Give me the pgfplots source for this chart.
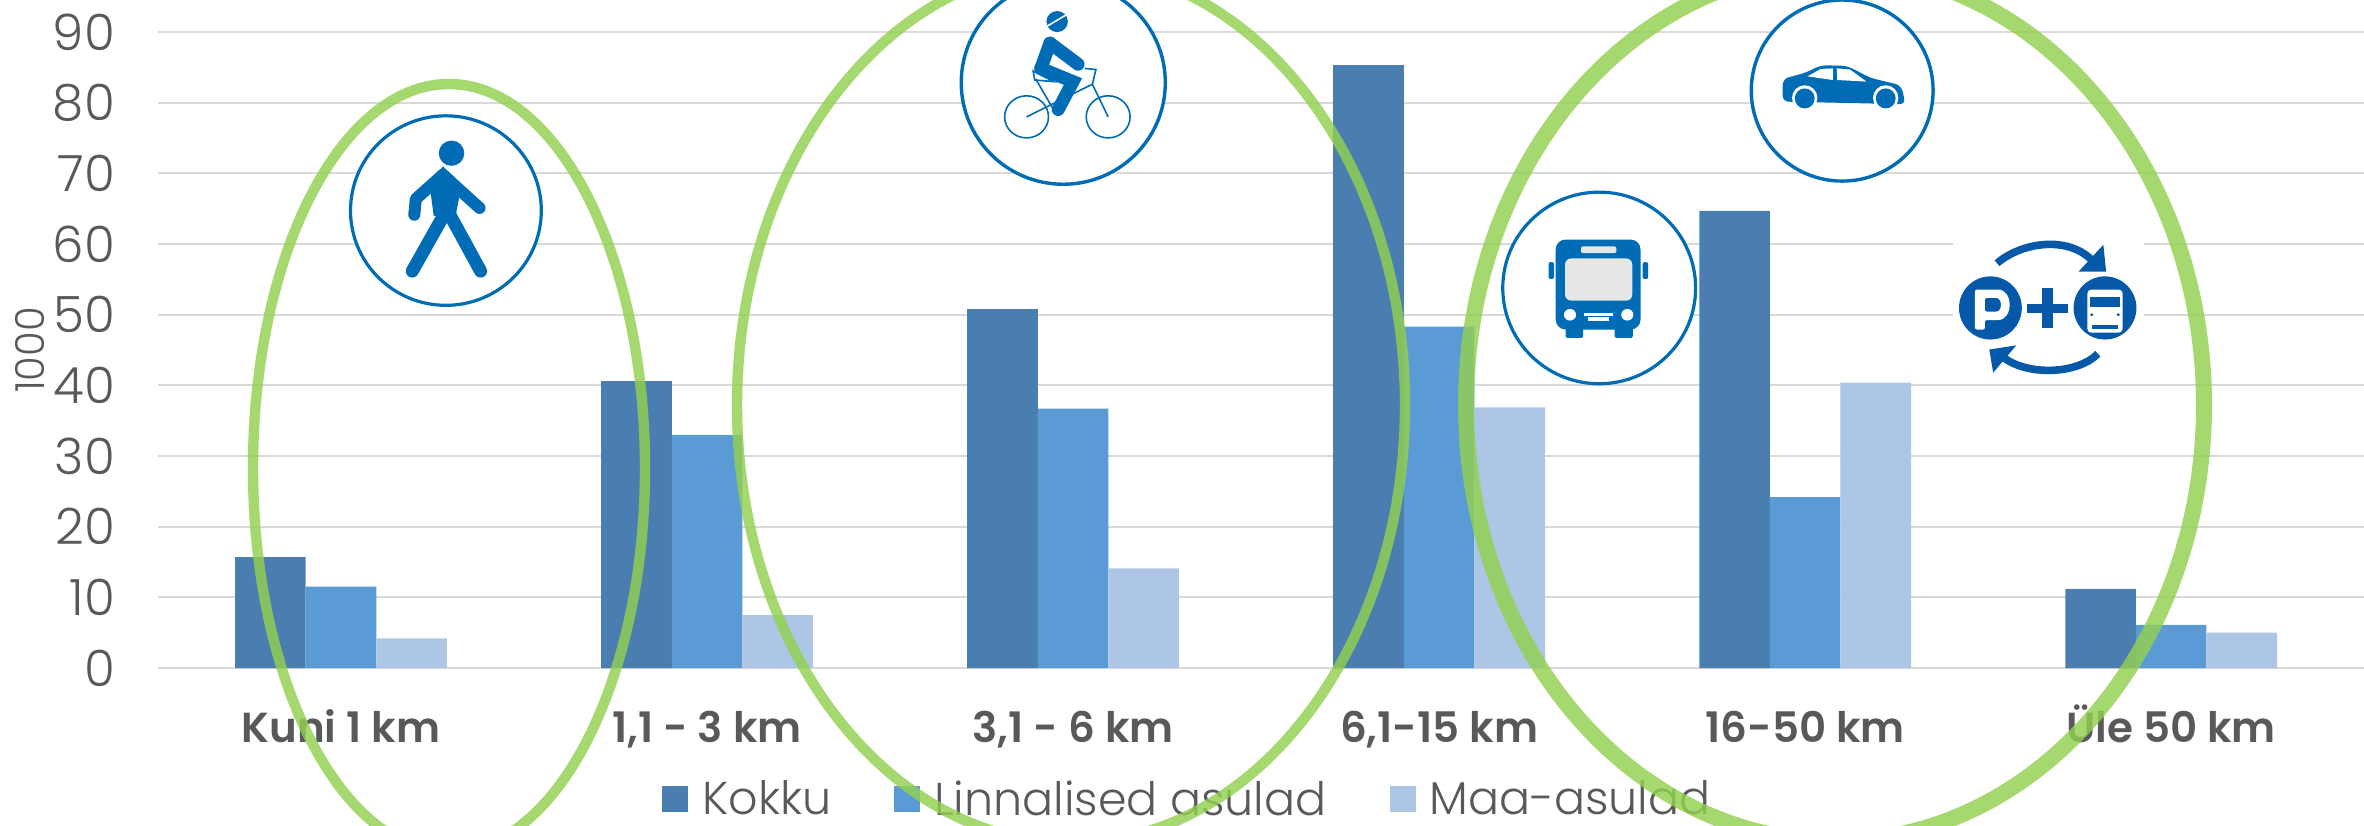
\documentclass[border=0pt]{standalone}
\usepackage{pgfplots}
\pgfplotsset{compat=1.18}
\usepackage{fontspec}
\setmainfont{Poppins}[UprightFont=* Light,BoldFont=* SemiBold]
\definecolor{cK}{HTML}{4A7EB0}
\definecolor{cL}{HTML}{5B9BD5}
\definecolor{cM}{HTML}{ADC6E5}
\definecolor{cG}{HTML}{92D050}
\definecolor{cB}{HTML}{006CB5}
\definecolor{cP}{HTML}{0559A8}
\definecolor{cT}{HTML}{595959}
\definecolor{cW}{HTML}{E6E8E6}
\begin{document}
\begin{tikzpicture}
\useasboundingbox (0,0) rectangle (1182pt,-412.5pt);
\clip (0,0) rectangle (1182pt,-412.5pt);
\begin{axis}[
  at={(79pt,-334pt)}, anchor=south west,
  scale only axis, width=1103pt, height=318pt,
  ymin=0, ymax=90, xmin=-0.5, xmax=5.527,
  ybar=0pt, bar width=35.3pt,
  axis line style={draw=none}, tick style={draw=none},
  ymajorgrids, grid style={draw=black!15,line width=1pt},
  ytick={0,10,...,90},
  xtick=data,
  xticklabels={Kuni 1 km,{1,1 - 3 km},{3,1 - 6 km},{6,1-15 km},16-50 km,Üle 50 km},
  tick label style={text=cT},
  /pgf/number format/assume math mode=true,
  yticklabel style={font=\fontsize{25}{25}\selectfont,xshift=-18pt},
  xticklabel style={font=\fontsize{21}{21}\selectfont\bfseries,text height=16.5pt,text depth=0pt,yshift=-13pt},
  ylabel={1000}, ylabel style={font=\fontsize{20}{20}\selectfont,text=cT,at={(axis description cs:-0.058,0.5)},anchor=center},
  legend style={draw=none,fill=none,at={(252pt,-54pt)},anchor=north west,legend columns=3,
    font=\fontsize{23}{23}\selectfont,text=cT,
    /tikz/every odd column/.style={column sep=5pt},/tikz/every even column/.style={column sep=29.5pt},inner sep=0pt},
  legend image code/.code={\fill[#1] (0pt,-6.5pt) rectangle (13pt,6.5pt);},
  legend cell align=left,
]
\addplot[draw=none,fill=cK] coordinates {(0,15.7) (1,40.6) (2,50.8) (3,85.3) (4,64.7) (5,11.2)};
\addplot[draw=none,fill=cL] coordinates {(0,11.5) (1,33.0) (2,36.7) (3,48.3) (4,24.2) (5,6.1)};
\addplot[draw=none,fill=cM] coordinates {(0,4.2) (1,7.5) (2,14.1) (3,36.9) (4,40.4) (5,5.0)};
\legend{Kokku,Linnalised asulad,Maa-asulad}
\end{axis}
% --- walker
\begin{scope}[x=0.2551pt,y=-0.2632pt]
  \draw[cB,line width=1.6pt,fill=white] (874,400) circle [x radius=187,y radius=180];
  \fill[cB] (885,291) circle [x radius=25,y radius=24];
  \fill[cB] (868,316) -- (905,350) -- (893,410) -- (850,410) -- (842,350) -- cycle;
  \draw[cB,line width=6pt,line cap=round,line join=round] (868,332) -- (815,378) -- (812,408);
  \draw[cB,line width=6pt,line cap=round] (868,332) -- (940,395);
  \draw[cB,line width=6.5pt,line cap=round] (872,405) -- (808,515);
  \draw[cB,line width=6.5pt,line cap=round] (880,405) -- (942,515);
\end{scope}
% --- cyclist
\begin{scope}[xshift=400pt,x=0.2551pt,y=-0.2632pt]
  \draw[cB,line width=1.7pt,fill=white] (516,157) circle [x radius=200,y radius=193];
  \fill[cB] (504,41) circle [x radius=21,y radius=20];
  \draw[white,line width=0.8pt] (484,50) -- (522,28);
  \draw[cB,line width=6.5pt,line cap=round] (490,82) -- (472,130);
  \draw[cB,line width=6.5pt,line cap=round] (490,82) -- (545,122);
  \draw[cB,line width=6.5pt,line cap=round] (472,130) -- (535,155) -- (506,208);
  \draw[cB,line width=0.8pt] (444,222) circle [x radius=43,y radius=40];
  \draw[cB,line width=0.8pt] (604,222) circle [x radius=43,y radius=40];
  \draw[cB,line width=0.8pt] (444,222) -- (573,160) -- (604,222);
  \draw[cB,line width=0.8pt] (462,150) -- (495,205) (573,160) -- (580,132) -- (558,130);
  \draw[cB,line width=0.8pt] (457,135) -- (497,155) -- (460,152) -- cycle;
\end{scope}
% --- car, bus, P+R
\begin{scope}[xshift=750pt,x=0.2755pt,y=-0.2632pt]
  \fill[white] (822,440) rectangle (1168,722);
  \draw[cB,line width=1.7pt,fill=white] (621,172) circle [x radius=165,y radius=172];
  \fill[cB,rounded corners=3pt] (513,150) -- (555,138) -- (582,124) -- (630,125) -- (672,148) -- (728,162) -- (736,198) -- (513,193) -- cycle;
  \fill[white] (558,145) -- (582,131) -- (604,130) -- (604,152) -- cycle;
  \fill[white] (611,130) -- (635,132) -- (665,155) -- (612,152) -- cycle;
  \foreach \p in {553,700}{\fill[white] (\p,186) circle [x radius=23,y radius=24];\fill[cB] (\p,187) circle [x radius=18,y radius=19];}
  \draw[cB,line width=1.6pt,fill=white] (180,547) circle [x radius=175,y radius=182];
  \fill[cB,rounded corners=5pt] (101,455) rectangle (255,626);
  \fill[cB,rounded corners=1pt] (88,498) rectangle (98,530);
  \fill[cB,rounded corners=1pt] (259,498) rectangle (269,530);
  \fill[cB,rounded corners=1pt] (119,620) rectangle (151,642);
  \fill[cB,rounded corners=1pt] (208,620) rectangle (241,642);
  \fill[cW,rounded corners=3pt] (118,491) rectangle (240,571);
  \fill[cW,rounded corners=1pt] (147,468) rectangle (211,481);
  \fill[white] (127,598) circle [x radius=11,y radius=11];
  \fill[white] (231,598) circle [x radius=11,y radius=11];
  \fill[white] (152,594) rectangle (205,600);
  \fill[white] (160,603) rectangle (197,609);
  \fill[cP] (890,585) circle [x radius=57,y radius=60];
  \fill[cP] (1098,585) circle [x radius=57,y radius=60];
  \fill[white,even odd rule,rounded corners=1pt] (862,550) -- (900,550) .. controls (932,550) and (932,608) .. (900,608) -- (880,608) -- (880,626) -- (862,626) -- cycle (880,566) -- (880,592) -- (897,592) .. controls (912,592) and (912,566) .. (897,566) -- cycle;
  \fill[white,rounded corners=2pt] (1066,550) rectangle (1130,632);
  \fill[cP] (1070,565) rectangle (1126,583);
  \fill[cP] (1074,618) rectangle (1122,625);
  \fill[cP] (1074,598) circle [x radius=3,y radius=3];
  \fill[cP] (1122,598) circle [x radius=3,y radius=3];
  \fill[cP] (984,548) rectangle (1003,624);
  \fill[cP] (957,577) rectangle (1030,595);
  \draw[cP,line width=3.8pt] (902,500) .. controls (950,458) and (1030,450) .. (1072,492);
  \fill[cP] (1095,465) -- (1100,516) -- (1050,516) -- cycle;
  \draw[cP,line width=3.8pt] (1085,672) .. controls (1050,710) and (960,715) .. (915,680);
  \fill[cP] (937,656) -- (888,664) -- (895,708) -- cycle;
\end{scope}
% --- ellipses
\begin{scope}[x=0.5pt,y=-0.5pt]
  \draw[cG,opacity=0.82,line width=5.2pt] (449,468) ellipse [x radius=196,y radius=384];
  \draw[cG,opacity=0.82,line width=5.2pt] (1071,405) ellipse [x radius=334,y radius=438];
  \draw[cG,opacity=0.82,line width=8pt] (1835,405) ellipse [x radius=369,y radius=436];
\end{scope}
\end{tikzpicture}
\end{document}
